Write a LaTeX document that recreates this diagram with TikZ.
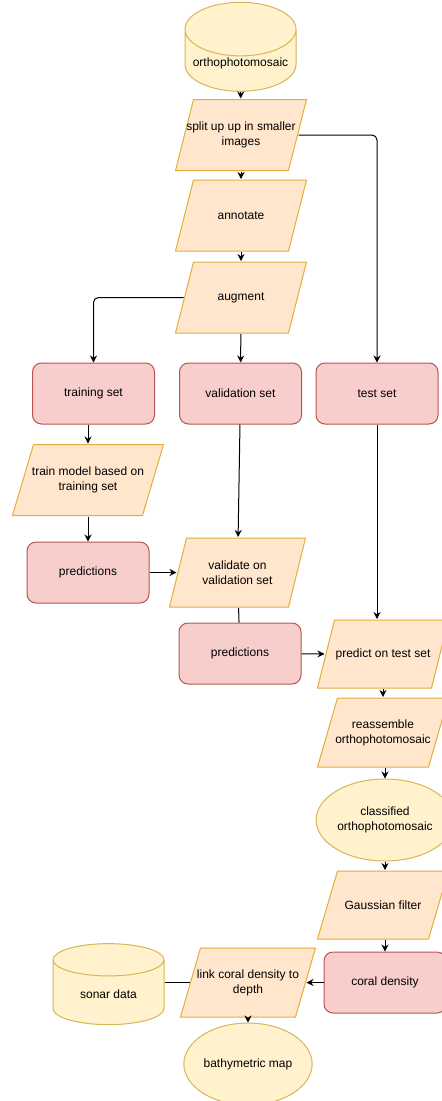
\documentclass[tikz,border=0pt]{standalone}
\usepackage{fontspec}
\setmainfont{Liberation Sans}
\usetikzlibrary{shapes.geometric,arrows.meta,positioning}
\definecolor{iofill}{HTML}{FFE6CC}
\definecolor{iodraw}{HTML}{E3AE3C}
\definecolor{dbfill}{HTML}{FFF2CC}
\definecolor{dbdraw}{HTML}{D6B656}
\definecolor{setfill}{HTML}{F8CECC}
\definecolor{setdraw}{HTML}{B85450}

\begin{document}
\begin{tikzpicture}[x=1pt,y=-1pt]
\tikzset{io/.style={rectangle, minimum width=132pt, minimum height=72pt,
  path picture={\draw[draw=iodraw, fill=iofill, line width=1pt]
    ([shift={(#1+0.5pt,-0.5pt)}]path picture bounding box.north west) --
    ([shift={(-0.5pt,-0.5pt)}]path picture bounding box.north east) --
    ([shift={(-#1-0.5pt,0.5pt)}]path picture bounding box.south east) --
    ([shift={(0.5pt,0.5pt)}]path picture bounding box.south west) -- cycle;}},
  io/.default=18pt}
\tikzset{set/.style={rectangle, rounded corners=9pt, draw=setdraw, fill=setfill, minimum width=122pt, minimum height=61pt}}
\tikzset{db/.style={cylinder, shape border rotate=90, aspect=0.55, draw=dbdraw, fill=dbfill, minimum width=111pt, minimum height=80pt}}
\tikzset{res/.style={ellipse, draw=dbdraw, fill=dbfill, minimum width=122pt, minimum height=82pt}}

\useasboundingbox (0,0) rectangle (442,1101);
\clip (0,0) rectangle (442,1101);

\begin{scope}[every node/.style={line width=1pt, inner sep=1pt, align=center, font=\fontsize{12}{15}\selectfont}]
\node [db] (ortho) at (240.5,63) {orthophotomosaic};
\node [io] (split) at (241,135) {split up up in smaller\\images};
\node [io] (annot) at (241,215.5) {annotate};
\node [io] (augm) at (241,297.5) {augment};
\node [set] (trainset) at (93.5,393.5) {training set};
\node [set] (valset) at (240.5,393.5) {validation set};
\node [set] (testset) at (377,393.5) {test set};
\node [io=21pt, minimum width=152pt] (train) at (88,480) {train model based on\\training set};
\node [set] (pred1) at (88,572.5) {predictions};
\node [io=17pt, minimum width=137pt, minimum height=70pt] (valid) at (237.5,572.5) {validate on\\validation set};
\node [set] (pred2) at (240,653.5) {predictions};
\node [io=17pt, minimum height=69pt] (predict) at (383,654) {predict on test set};
\node [io=20pt, minimum height=70pt] (reass) at (383,732.5) {reassemble\\orthophotomosaic};
\node [res] (classif) at (385,820) {classified\\orthophotomosaic};
\node [io=20pt, minimum height=69pt] (gauss) at (383,905) {Gaussian filter};
\node [set] (coral) at (385,982.5) {coral density};
\node [io=20pt, minimum width=136pt, minimum height=70pt] (link) at (248,982.5) {link coral density to\\depth};
\node [db, minimum height=81pt] (sonar) at (108.5,994) {sonar data};
\node [res] (bathy) at (248,1064) {bathymetric map};
\end{scope}

\begin{scope}[>={Stealth[length=7pt,width=7pt]}, every edge/.style={draw=black, line width=1pt}, rounded corners=5pt]
\path (ortho) edge[->] (split);
\path (split) edge[->] (annot);
\path (annot) edge[->] (augm);
\path (augm) edge[->] (valset);
\draw [line width=1pt, ->] ([xshift=9pt]augm.west) -| (trainset.north);
\draw [line width=1pt, ->] ([xshift=-9pt]split.east) -| (testset.north);
\path (trainset.south -| train.north) edge[->] (train);
\path (train) edge[->] (pred1);
\path (pred1) edge[->] ([xshift=8pt]valid.west);
\path (valset) edge[->] (valid);
\path (valid) edge (pred2);
\path (pred2) edge[->] ([xshift=8pt]predict.west);
\path (testset) edge[->] (testset.south |- predict.north);
\path (predict.south -| reass.north) edge[->] (reass);
\path (reass.south -| classif.north) edge[->] (classif);
\path (classif.south) edge[->] (gauss.north -| classif.south);
\path (gauss.south -| coral.north) edge[->] (coral);
\path (coral) edge[->] ([xshift=-10pt]link.east);
\path (sonar.east |- link.west) edge ([xshift=10pt]link.west);
\path (link) edge[->] (bathy);
\end{scope}

\end{tikzpicture}
\end{document}
